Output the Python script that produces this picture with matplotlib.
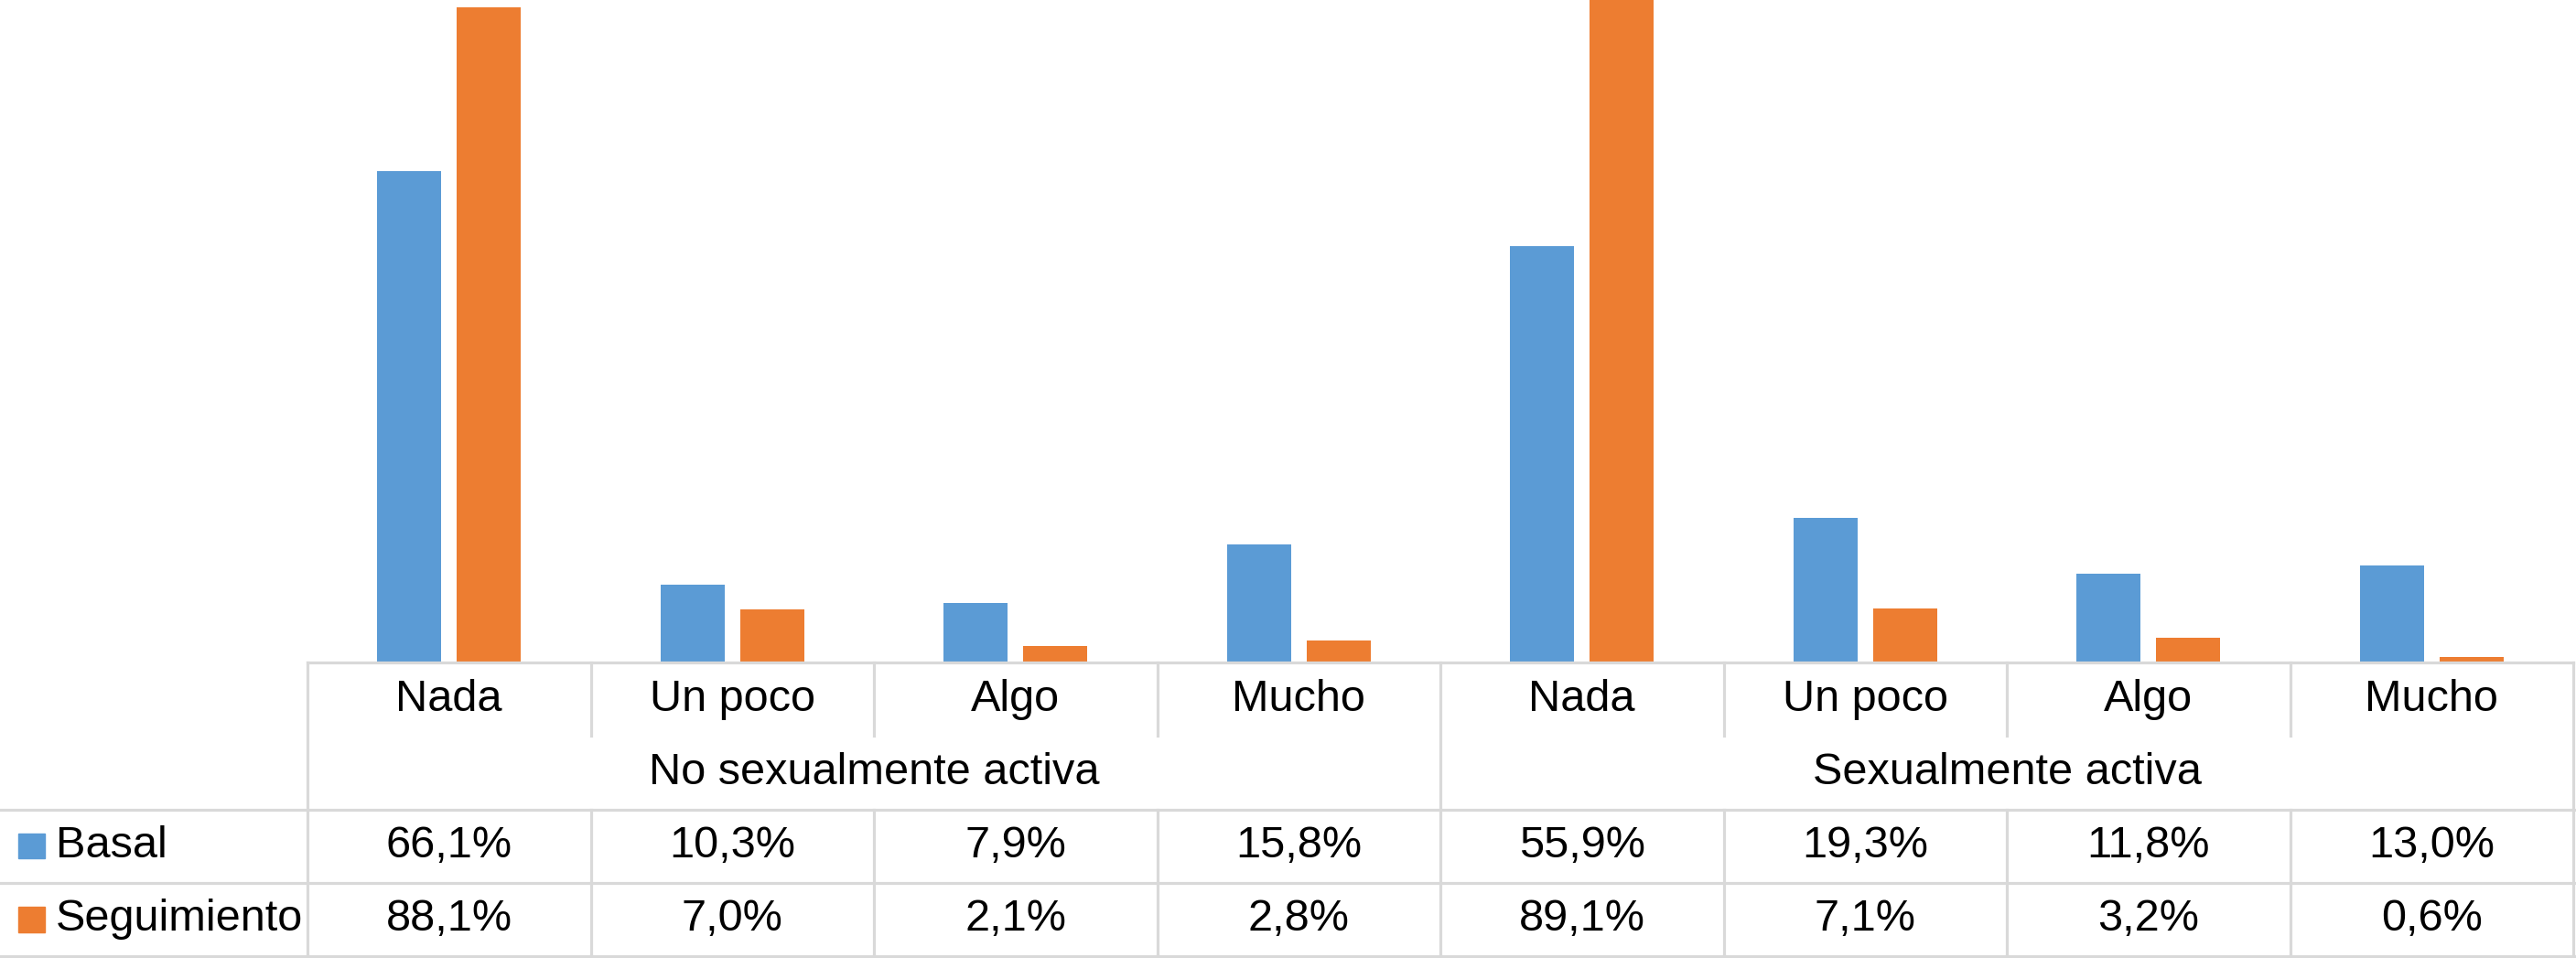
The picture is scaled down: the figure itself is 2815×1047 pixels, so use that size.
import matplotlib.pyplot as plt
from matplotlib.patches import Rectangle
from matplotlib.transforms import blended_transform_factory

plt.rcParams['font.family'] = ['Liberation Sans', 'DejaVu Sans']

# data
categories = ['Nada', 'Un poco', 'Algo', 'Mucho', 'Nada', 'Un poco', 'Algo', 'Mucho']
groups = ['No sexualmente activa', 'Sexualmente activa']
basal = [66.1, 10.3, 7.9, 15.8, 55.9, 19.3, 11.8, 13.0]
seguimiento = [88.1, 7.0, 2.1, 2.8, 89.1, 7.1, 3.2, 0.6]
series_names = ['Basal', 'Seguimiento']
colors = ['#5B9BD5', '#ED7D31']

W, H = 2815, 1047
fig = plt.figure(figsize=(W / 100, H / 100), dpi=100)

left = 336 / W
width = (2812 - 336) / W
base = (H - 723) / H

# bars
ax = fig.add_axes([left, base, width, 1 - base])
x = list(range(len(categories)))
bw = 0.226
ax.bar([i - 0.14 for i in x], basal, bw, color=colors[0])
ax.bar([i + 0.14 for i in x], seguimiento, bw, color=colors[1])
ax.set_xlim(-0.5, len(categories) - 0.5)
ax.set_ylim(0, max(seguimiento))
ax.axis('off')

# data table underneath
tab = fig.add_axes([left, 2 / H, width, 321 / H])
tab.set_xlim(-0.5, len(categories) - 0.5)
tab.set_ylim(0, 4)
tab.axis('off')

lc = '#d9d9d9'
lw = 2.3
n = len(categories)
fs = 35

# horizontal lines
tab.plot([-0.5, n - 0.5], [4, 4], color=lc, lw=lw, clip_on=False)
bt = blended_transform_factory(fig.transFigure, tab.transData)
for yy in [2, 1, 0]:
    tab.plot([0, 1], [yy, yy], color=lc, lw=lw, transform=bt, clip_on=False)

# vertical lines
for xx in [-0.5, n / 2 - 0.5, n - 0.5]:
    tab.plot([xx, xx], [0, 4], color=lc, lw=lw, clip_on=False)
for i in range(1, n):
    if i == n // 2:
        continue
    tab.plot([i - 0.5, i - 0.5], [3, 4], color=lc, lw=lw, clip_on=False)
    tab.plot([i - 0.5, i - 0.5], [0, 2], color=lc, lw=lw, clip_on=False)

# category row
for i, c in enumerate(categories):
    tab.text(i, 3.5, c, ha='center', va='center', fontsize=fs)

# group row
for g, name in enumerate(groups):
    tab.text(g * 4 + 1.5, 2.5, name, ha='center', va='center', fontsize=fs)

# value rows
for row, (vals, name, col) in enumerate(zip([basal, seguimiento], series_names, colors)):
    yc = 1.5 - row
    for i, v in enumerate(vals):
        tab.text(i, yc, f'{v:.1f}%'.replace('.', ','), ha='center', va='center', fontsize=fs)
    tab.add_patch(Rectangle((20 / W, yc - 0.17), 29 / W, 0.34, color=col,
                            transform=bt, clip_on=False))
    tab.text(61 / W, yc, name, ha='left', va='center', fontsize=fs,
             transform=bt)

fig.savefig('out.png', dpi=100)
